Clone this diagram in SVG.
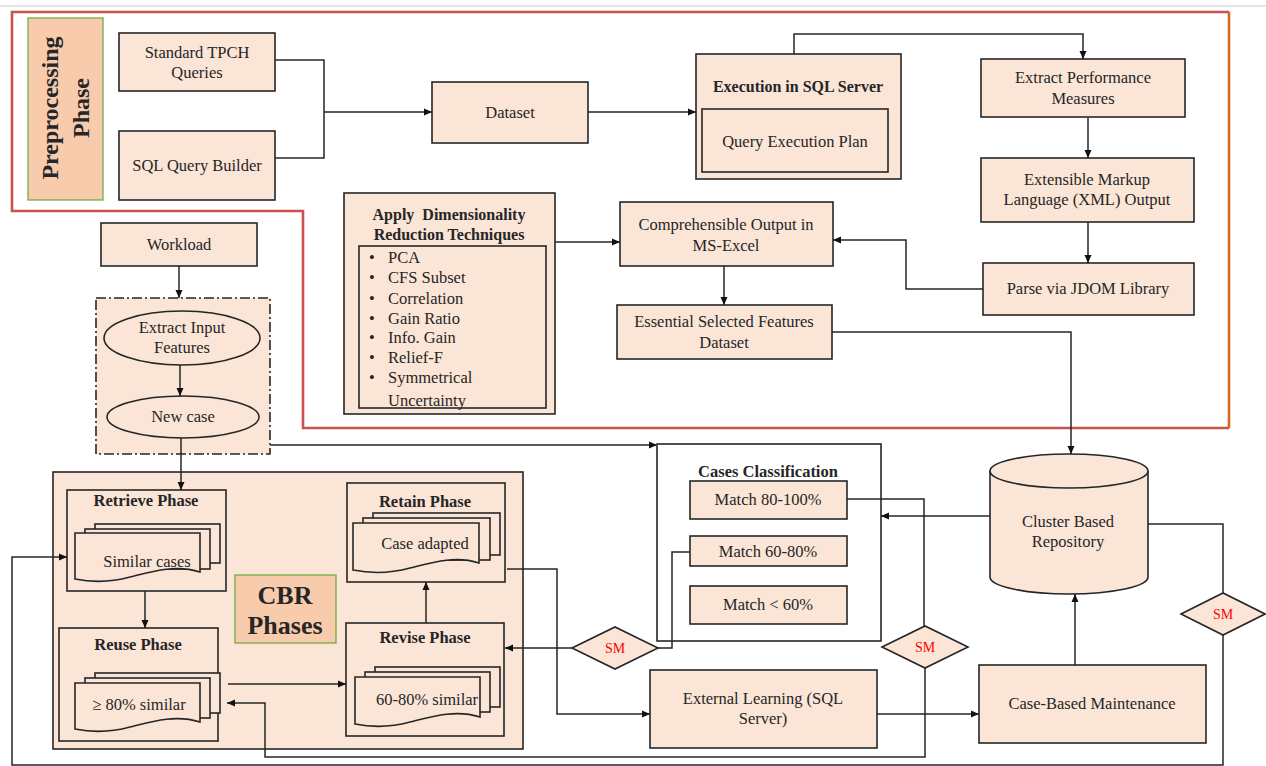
<svg xmlns="http://www.w3.org/2000/svg" width="1266" height="766" viewBox="0 0 1266 766">
<defs>
<marker id="arr" markerWidth="8" markerHeight="8" refX="8" refY="4" orient="auto" markerUnits="userSpaceOnUse"><path d="M0,0.5 L8,4 L0,7.5 Z" fill="#111"/></marker>
<style>
.n{fill:#fbe5d6;stroke:#262626;stroke-width:1.6}
.w{fill:none;stroke:#262626;stroke-width:1.6}
.lab{fill:#f8cbad;stroke:#70ad47;stroke-width:1.3}
.t{font-family:"Liberation Serif",serif;font-size:16.5px;fill:#262626;text-anchor:middle}
.l{font-family:"Liberation Serif",serif;font-size:16.5px;fill:#262626}
.b{font-weight:bold;font-size:16px}
.c{fill:none;stroke:#262626;stroke-width:1.5}
.g{fill:none;stroke:#5a5a5a;stroke-width:1.8}
.sm{font-family:"Liberation Serif",serif;font-size:14px;fill:#ff0000;text-anchor:middle}
</style>
</defs>
<rect x="0" y="0" width="1266" height="766" fill="#ffffff"/>
<line x1="0" y1="6" x2="1266" y2="6" stroke="#dcdcdc" stroke-width="1.5"/>

<g id="preprocessing-region">
<path d="M1229,428 H303 V211 H12 V12 H1229" fill="none" stroke="#c9514f" stroke-width="2.6"/>
<path d="M1229,12 V428" fill="none" stroke="#d2691e" stroke-width="2.6"/>
</g>

<g id="preprocessing-label">
<rect class="lab" x="28" y="18" width="75" height="182"/>
<text class="t b" transform="translate(58,108) rotate(-90)" style="font-size:24px">Preprocessing</text>
<text class="t b" transform="translate(89,108) rotate(-90)" style="font-size:24px">Phase</text>
</g>

<g id="standard-tpch">
<rect class="n" x="119" y="33" width="156" height="58"/>
<text class="t" x="197" y="58">Standard TPCH</text>
<text class="t" x="197" y="78">Queries</text>
</g>
<g id="sql-query-builder">
<rect class="n" x="119" y="131" width="156" height="69"/>
<text class="t" x="197" y="171">SQL Query Builder</text>
</g>
<g id="dataset">
<rect class="n" x="432" y="82" width="156" height="61"/>
<text class="t" x="510" y="118">Dataset</text>
</g>
<g id="execution">
<rect class="n" x="696" y="54" width="205" height="125"/>
<text class="t b" x="798" y="92">Execution in SQL Server</text>
<rect class="n" x="702" y="109" width="186" height="63"/>
<text class="t" x="795" y="147">Query Execution Plan</text>
</g>
<g id="extract-performance">
<rect class="n" x="981" y="59" width="204" height="58"/>
<text class="t" x="1083" y="83">Extract Performance</text>
<text class="t" x="1083" y="104">Measures</text>
</g>
<g id="xml-output">
<rect class="n" x="981" y="158" width="213" height="64"/>
<text class="t" x="1087" y="185">Extensible Markup</text>
<text class="t" x="1087" y="205">Language (XML) Output</text>
</g>
<g id="parse-jdom">
<rect class="n" x="983" y="263" width="211" height="52"/>
<text class="t" x="1088" y="294">Parse via JDOM Library</text>
</g>
<g id="comprehensible-output">
<rect class="n" x="620" y="202" width="213" height="64"/>
<text class="t" x="726" y="230">Comprehensible Output in</text>
<text class="t" x="726" y="251">MS-Excel</text>
</g>
<g id="essential-features">
<rect class="n" x="617" y="305" width="215" height="54"/>
<text class="t" x="724" y="327">Essential Selected Features</text>
<text class="t" x="724" y="348">Dataset</text>
</g>
<g id="dimensionality-reduction">
<rect class="n" x="344" y="193" width="211" height="221"/>
<text class="t b" x="449" y="220" xml:space="preserve">Apply  Dimensionality</text>
<text class="t b" x="449" y="240">Reduction Techniques</text>
<rect class="n" x="359" y="246" width="187" height="162"/>
<g class="l">
<text x="369" y="263">•</text><text x="388" y="263">PCA</text>
<text x="369" y="283">•</text><text x="388" y="283">CFS Subset</text>
<text x="369" y="304">•</text><text x="388" y="304">Correlation</text>
<text x="369" y="324">•</text><text x="388" y="324">Gain Ratio</text>
<text x="369" y="343">•</text><text x="388" y="343">Info. Gain</text>
<text x="369" y="363">•</text><text x="388" y="363">Relief-F</text>
<text x="369" y="383">•</text><text x="388" y="383">Symmetrical</text>
<text x="388" y="406">Uncertainty</text>
</g>
</g>

<g id="workload">
<rect class="n" x="101" y="223" width="156" height="43"/>
<text class="t" x="179" y="250">Workload</text>
</g>
<g id="input-group">
<rect x="96" y="298" width="174" height="156" fill="#fbe5d6" stroke="#262626" stroke-width="1.6" stroke-dasharray="10,3,2,3"/>
</g>
<g id="extract-input-features">
<ellipse class="n" cx="182" cy="338" rx="78" ry="27"/>
<text class="t" x="182" y="333">Extract Input</text>
<text class="t" x="182" y="353">Features</text>
</g>
<g id="new-case">
<ellipse class="n" cx="183" cy="417" rx="76" ry="21"/>
<text class="t" x="183" y="422">New case</text>
</g>

<g id="cbr-phases">
<rect class="n" x="53" y="472" width="470" height="277"/>
<rect class="lab" x="235" y="575" width="101" height="68"/>
<text class="t b" x="285" y="604" style="font-size:26px">CBR</text>
<text class="t b" x="285" y="634" style="font-size:26px">Phases</text>
</g>
<g id="retrieve-phase">
<rect class="n" x="67" y="490" width="159" height="101"/>
<text class="t b" x="146" y="506" style="font-size:16.5px">Retrieve Phase</text>
<rect class="n" x="95" y="524" width="125" height="39"/>
<rect class="n" x="85" y="529" width="125" height="40"/>
<path class="n" d="M75,533 H200 V572 C175,564 150,572 130,577 C108,583 90,582 75,579 Z"/>
<text class="t" x="147" y="567">Similar cases</text>
</g>
<g id="reuse-phase">
<rect class="n" x="59" y="628" width="159" height="113"/>
<text class="t b" x="138" y="650" style="font-size:16.5px">Reuse Phase</text>
<rect class="n" x="95" y="673" width="125" height="40"/>
<rect class="n" x="85" y="678" width="125" height="40"/>
<path class="n" d="M75,683 H200 V722 C175,714 150,722 130,727 C108,733 90,732 75,729 Z"/>
<text class="t" x="139" y="710">≥ 80% similar</text>
</g>
<g id="retain-phase">
<rect class="n" x="347" y="483" width="158" height="99"/>
<text class="t b" x="425" y="507" style="font-size:16.5px">Retain Phase</text>
<rect class="n" x="373" y="513" width="127" height="42"/>
<rect class="n" x="363" y="518" width="127" height="42"/>
<path class="n" d="M353,523 H479 V563 C455,555 430,563 410,568 C388,574 368,573 353,570 Z"/>
<text class="t" x="425" y="549">Case adapted</text>
</g>
<g id="revise-phase">
<rect class="n" x="346" y="623" width="158" height="113"/>
<text class="t b" x="425" y="643" style="font-size:16.5px">Revise Phase</text>
<rect class="n" x="375" y="667" width="125" height="40"/>
<rect class="n" x="365" y="672" width="125" height="40"/>
<path class="n" d="M355,677 H480 V717 C455,709 430,717 410,722 C388,728 370,727 355,724 Z"/>
<text class="t" x="427" y="705">60-80% similar</text>
</g>

<g id="cases-classification">
<rect class="w" x="657" y="444" width="224" height="197"/>
<text class="t b" x="768" y="477" style="font-size:16.5px">Cases Classification</text>
</g>
<g id="match-80-100">
<rect class="n" x="690" y="481" width="157" height="38"/>
<text class="t" x="768" y="505">Match 80-100%</text>
</g>
<g id="match-60-80">
<rect class="n" x="690" y="536" width="157" height="30"/>
<text class="t" x="768" y="557">Match 60-80%</text>
</g>
<g id="match-60">
<rect class="n" x="690" y="586" width="157" height="38"/>
<text class="t" x="768" y="610">Match &lt; 60%</text>
</g>

<g id="repository">
<path class="n" d="M990,471 V577 A79,17 0 0 0 1148,577 V471"/>
<ellipse class="n" cx="1069" cy="471" rx="79" ry="17"/>
<text class="t" x="1068" y="527">Cluster Based</text>
<text class="t" x="1068" y="547">Repository</text>
</g>
<g id="case-based-maintenance">
<rect class="n" x="979" y="665" width="227" height="78"/>
<text class="t" x="1092" y="709">Case-Based Maintenance</text>
</g>
<g id="external-learning">
<rect class="n" x="650" y="670" width="227" height="78"/>
<text class="t" x="763" y="704">External Learning (SQL</text>
<text class="t" x="763" y="724">Server)</text>
</g>

<g id="sm-1">
<polygon class="n" points="572,648 615,627 658,648 615,669"/>
<text class="sm" x="615" y="653">SM</text>
</g>
<g id="sm-2">
<polygon class="n" points="882,647 925,626 968,647 925,668"/>
<text class="sm" x="925" y="652">SM</text>
</g>
<g id="sm-3">
<polygon class="n" points="1181,614 1223,593 1265,614 1223,635"/>
<text class="sm" x="1223" y="619">SM</text>
</g>

<g id="connectors">
<path class="c" d="M275,60 H324 V158 H275"/>
<path class="c" d="M324,112 H432" marker-end="url(#arr)"/>
<path class="c" d="M588,112 H696" marker-end="url(#arr)"/>
<path class="c" d="M794,54 V34 H1083 V59" marker-end="url(#arr)"/>
<path class="c" d="M1088,118 V158" marker-end="url(#arr)"/>
<path class="c" d="M1088,222 V263" marker-end="url(#arr)"/>
<path class="c" d="M983,289 H906 V240 H833" marker-end="url(#arr)"/>
<path class="c" d="M555,242 H620" marker-end="url(#arr)"/>
<path class="c" d="M724,266 V305" marker-end="url(#arr)"/>
<path class="c" d="M832,332 H1071 V454" marker-end="url(#arr)"/>
<path class="c" d="M179,266 V298" marker-end="url(#arr)"/>
<path class="c" d="M180,365 V396" marker-end="url(#arr)"/>
<path class="c" d="M181,438 V490" marker-end="url(#arr)"/>
<path class="g" d="M270,445 H657" marker-end="url(#arr)"/>
<path class="c" d="M847,499 H924 V626"/>
<path class="c" d="M990,516 H881" marker-end="url(#arr)"/>
<path class="c" d="M925,668 V757 H265 V703 H227" marker-end="url(#arr)"/>
<path class="c" d="M1223,593 V524 H1148"/>
<path class="c" d="M1223,635 V765 H12 V557 H67" marker-end="url(#arr)"/>
<path class="c" d="M1075,665 V594" marker-end="url(#arr)"/>
<path class="c" d="M877,714 H979" marker-end="url(#arr)"/>
<path class="c" d="M507,569 H557 V714 H650" marker-end="url(#arr)"/>
<path class="c" d="M572,648 H505" marker-end="url(#arr)"/>
<path class="c" d="M658,648 H672 V552 H690"/>
<path class="c" d="M145,591 V628" marker-end="url(#arr)"/>
<path class="c" d="M228,684 H346" marker-end="url(#arr)"/>
<path class="c" d="M426,623 V582" marker-end="url(#arr)"/>
</g>
</svg>
